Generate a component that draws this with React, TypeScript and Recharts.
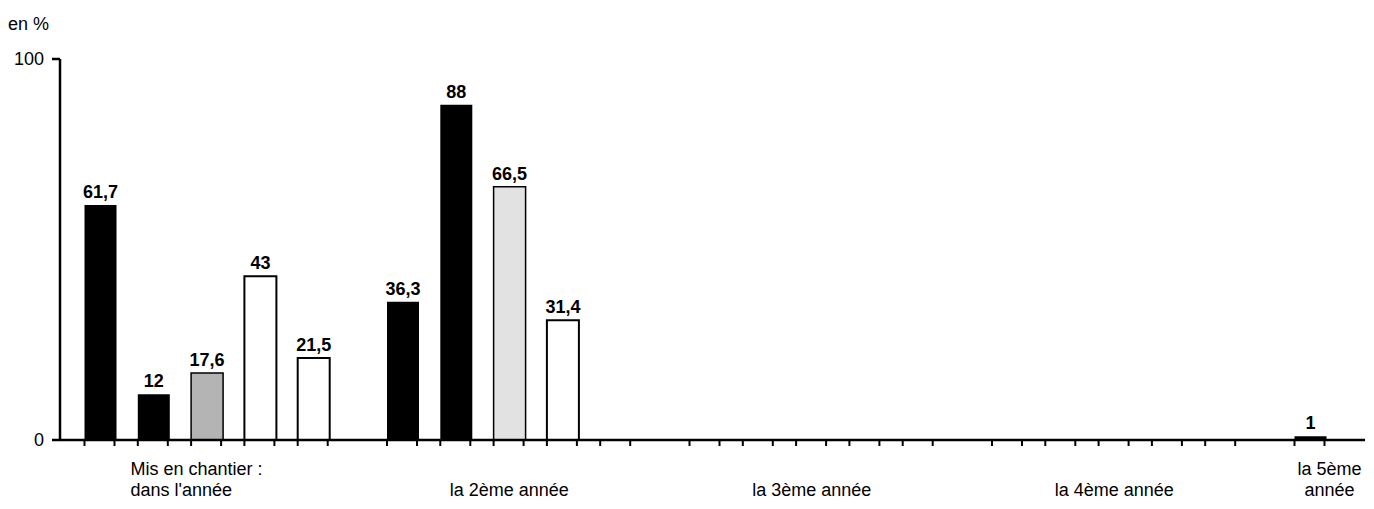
import { Bar, BarChart, Cell, LabelList, XAxis, YAxis } from 'recharts'

// one category per year, one series per slot inside a year group
const years = ["dans l'année", 'la 2ème année', 'la 3ème année', 'la 4ème année', 'la 5ème année']
const yearLabels = [
  ['Mis en chantier :', "dans l'année"],
  ['la 2ème année'],
  ['la 3ème année'],
  ['la 4ème année'],
  ['la 5ème', 'année'],
]
const serie1 = [61.7, 36.3, null, null, 1]
const serie2 = [12, 88, null, null, null]
const serie3 = [17.6, 66.5, null, null, null]
const serie4 = [43, 31.4, null, null, null]
const serie5 = [21.5, null, null, null, null]
const slotsShown = [5, 5, 5, 5, 1]
const yTicks = [0, 100]

const data = years.map((year, i) => ({
  year,
  s1: serie1[i],
  s2: serie2[i],
  s3: serie3[i],
  s4: serie4[i],
  s5: serie5[i],
}))

const FONT = '"Liberation Sans", Arial, Helvetica, sans-serif'
const W = 1374
const H = 509
const PLOT_LEFT = 60
const PLOT_RIGHT = 1365
const BAR = 32
const GAP = 21.3
const BAND = 302.5
const IN_BAND = Math.floor((BAND - (5 * BAR + 4 * GAP)) / 2)
const FIRST_BAR = 83.5
const bandStart = FIRST_BAR - IN_BAND

const stippleShades = ['#b4b4b4', '#e2e2e2', '#ccc', '#ccc', '#ccc']

const fmt = (v: any) => (v == null ? '' : String(v).replace('.', ','))

const YearTick = (props: any) => {
  const { x, y, index } = props
  const left = x - BAND / 2 + IN_BAND
  const marks: any[] = []
  for (let k = 0; k < slotsShown[index]; k++) {
    const l = left + k * (BAR + GAP)
    marks.push(<line key={`l${k}`} x1={l + 1} x2={l + 1} y1={y} y2={y + 6} stroke="#000" strokeWidth={2} />)
    marks.push(<line key={`r${k}`} x1={l + BAR - 1} x2={l + BAR - 1} y1={y} y2={y + 6} stroke="#000" strokeWidth={2} />)
  }
  const lines = yearLabels[index] || []
  let tx = x
  let anchor = 'middle'
  if (index === 0) {
    tx = left + 47
    anchor = 'start'
  }
  if (index === years.length - 1) tx = left + BAR / 2 + 20
  return (
    <g>
      {marks}
      <text textAnchor={anchor} fontSize={18} fontFamily={FONT} fill="#000">
        {lines.map((t, j) => (
          <tspan key={j} x={tx} y={y + 56 - (lines.length - 1 - j) * 21}>
            {t}
          </tspan>
        ))}
      </text>
    </g>
  )
}

const valueLabel = {
  position: 'top' as const,
  offset: 7,
  formatter: fmt,
  style: { fontSize: 18, fontWeight: 700, fill: '#000', fontFamily: FONT },
}

export default function App() {
  return (
    <div style={{ position: 'relative', width: W, height: H, background: '#fff' }}>
      <style>{'body{margin:0}'}</style>
      <div
        style={{
          position: 'absolute',
          left: 8,
          top: 14,
          fontSize: 18,
          fontFamily: FONT,
          color: '#000',
        }}
      >
        en %
      </div>
      <BarChart
        width={W}
        height={H}
        data={data}
        margin={{ top: 59, right: W - PLOT_RIGHT, bottom: 0, left: 8 }}
        barSize={BAR}
        barGap={GAP}
      >
        <XAxis
          dataKey="year"
          height={69}
          interval={0}
          axisLine={{ stroke: '#000', strokeWidth: 2.5 }}
          tickLine={false}
          tickSize={0}
          tickMargin={0}
          padding={{ left: bandStart - PLOT_LEFT, right: PLOT_RIGHT - (bandStart + 5 * BAND) }}
          tick={<YearTick />}
        />
        <YAxis
          width={52}
          domain={[0, 100]}
          ticks={yTicks}
          allowDataOverflow
          axisLine={{ stroke: '#000', strokeWidth: 2.5 }}
          tickLine={{ stroke: '#000', strokeWidth: 2.5 }}
          tickSize={8}
          tickMargin={8}
          tick={{ fontSize: 18, fill: '#000', fontFamily: FONT }}
        />
        <Bar dataKey="s1" fill="#000" isAnimationActive={false}>
          <LabelList dataKey="s1" {...valueLabel} />
        </Bar>
        <Bar dataKey="s2" fill="#000" isAnimationActive={false}>
          <LabelList dataKey="s2" {...valueLabel} />
        </Bar>
        <Bar dataKey="s3" stroke="#000" strokeWidth={1.5} isAnimationActive={false}>
          {data.map((_, i) => (
            <Cell key={i} fill={stippleShades[i]} />
          ))}
          <LabelList dataKey="s3" {...valueLabel} />
        </Bar>
        <Bar dataKey="s4" fill="#fff" stroke="#000" strokeWidth={2} isAnimationActive={false}>
          <LabelList dataKey="s4" {...valueLabel} />
        </Bar>
        <Bar dataKey="s5" fill="#fff" stroke="#000" strokeWidth={2} isAnimationActive={false}>
          <LabelList dataKey="s5" {...valueLabel} />
        </Bar>
      </BarChart>
    </div>
  )
}
